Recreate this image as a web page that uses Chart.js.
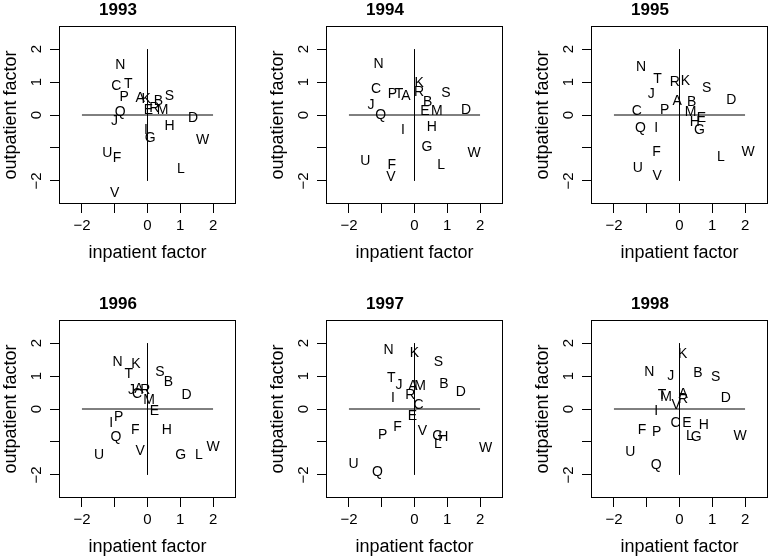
<!DOCTYPE html>
<html>
<head>
<meta charset="utf-8">
<script src="https://cdn.jsdelivr.net/npm/chart.js@4/dist/chart.umd.min.js"></script>
<style>
html,body{margin:0;padding:0;background:#fff;overflow:hidden;width:769px;height:556px;}
canvas{position:absolute;}
</style>
</head>
<body>
<canvas id="c0" width="240" height="270" style="left:0px;top:0px"></canvas>
<canvas id="c1" width="240" height="270" style="left:267px;top:0px"></canvas>
<canvas id="c2" width="240" height="270" style="left:532px;top:0px"></canvas>
<canvas id="c3" width="240" height="270" style="left:0px;top:294px"></canvas>
<canvas id="c4" width="240" height="270" style="left:267px;top:294px"></canvas>
<canvas id="c5" width="240" height="270" style="left:532px;top:294px"></canvas>
<script>
// ---- data ----
const letters = ['A','B','C','D','E','F','G','H','I','J','K','L','M','N','P','Q','R','S','T','U','V','W'];
const years = ['1993','1994','1995','1996','1997','1998'];

const x1993 = [-0.22,0.33,-0.95,1.39,0.03,-0.93,0.08,0.67,-0.05,-1.01,-0.04,1.02,0.46,-0.83,-0.71,-0.83,0.21,0.67,-0.59,-1.23,-1.00,1.68];
const y1993 = [0.54,0.44,0.90,-0.07,0.17,-1.28,-0.68,-0.31,-0.43,-0.14,0.52,-1.60,0.17,1.54,0.58,0.13,0.23,0.62,0.98,-1.11,-2.35,-0.73];

const x1994 = [-0.26,0.40,-1.17,1.57,0.32,-0.69,0.38,0.53,-0.35,-1.33,0.14,0.81,0.68,-1.10,-0.67,-1.03,0.14,0.96,-0.47,-1.50,-0.72,1.82];
const y1994 = [0.62,0.42,0.82,0.19,0.15,-1.48,-0.95,-0.34,-0.43,0.34,1.00,-1.48,0.15,1.59,0.67,0.03,0.72,0.71,0.67,-1.35,-1.86,-1.12];

const x1995 = [-0.07,0.37,-1.30,1.58,0.67,-0.70,0.61,0.47,-0.71,-0.86,0.18,1.26,0.34,-1.17,-0.45,-1.19,-0.14,0.83,-0.67,-1.27,-0.68,2.09];
const y1995 = [0.44,0.42,0.15,0.49,-0.07,-1.09,-0.41,-0.17,-0.36,0.67,1.05,-1.24,0.13,1.49,0.18,-0.36,1.02,0.85,1.13,-1.58,-1.83,-1.09];

const x1996 = [-0.26,0.64,-0.32,1.19,0.21,-0.37,1.01,0.59,-1.11,-0.49,-0.35,1.57,0.05,-0.91,-0.88,-0.96,-0.07,0.38,-0.57,-1.48,-0.22,2.00];
const y1996 = [0.64,0.85,0.50,0.45,-0.02,-0.60,-1.37,-0.62,-0.38,0.60,1.39,-1.37,0.29,1.47,-0.22,-0.81,0.62,1.16,1.10,-1.35,-1.23,-1.11];

const x1997 = [-0.05,0.90,0.12,1.41,-0.06,-0.52,0.71,0.88,-0.66,-0.47,0.00,0.71,0.17,-0.79,-0.97,-1.13,-0.13,0.73,-0.71,-1.86,0.24,2.17];
const y1997 = [0.72,0.78,0.16,0.54,-0.17,-0.53,-0.78,-0.81,0.37,0.76,1.72,-1.04,0.72,1.82,-0.76,-1.88,0.45,1.47,0.96,-1.64,-0.63,-1.16];

const x1998 = [0.11,0.56,-0.12,1.41,0.23,-1.14,0.51,0.74,-0.71,-0.27,0.10,0.32,-0.41,-0.92,-0.70,-0.71,0.11,1.10,-0.53,-1.50,-0.10,1.85];
const y1998 = [0.50,1.13,-0.38,0.35,-0.38,-0.60,-0.81,-0.45,-0.02,1.03,1.69,-0.78,0.40,1.15,-0.67,-1.67,0.32,1.01,0.44,-1.27,0.15,-0.79];

const xTicks = [-2,-1,0,1,2];
const xTickLabels = ['\u22122','','0','1','2'];
const yTicks = [-2,-1,0,1,2];
const yTickLabels = ['\u22122','','0','1','2'];
const refH = [[-2,0],[2,0]];
const refV = [[0,-2],[0,2]];

const xs = [x1993,x1994,x1995,x1996,x1997,x1998];
const ys = [y1993,y1994,y1995,y1996,y1997,y1998];

const FAM = '"Liberation Sans", Arial, Helvetica, sans-serif';
Chart.defaults.font.family = FAM;
Chart.defaults.color = '#000';

const boxPlugin = {
  id: 'boxPlugin',
  afterDraw(chart) {
    const {ctx, chartArea: a} = chart;
    ctx.save();
    ctx.strokeStyle = '#000';
    ctx.lineWidth = 1;
    ctx.strokeRect(Math.round(a.left) + 0.5, Math.round(a.top) + 0.5, Math.round(a.right - a.left) - 1, Math.round(a.bottom - a.top) - 1);
    // rotated y tick labels
    const ys_ = chart.scales.y;
    ctx.fillStyle = '#000';
    ctx.font = '15px ' + FAM;
    ctx.textAlign = 'center';
    ctx.textBaseline = 'middle';
    yTicks.forEach((v, i) => {
      const lab = yTickLabels[i];
      if (!lab) return;
      const py = ys_.getPixelForValue(v);
      ctx.save();
      ctx.translate(37, py);
      ctx.rotate(-Math.PI / 2);
      ctx.fillText(lab, 0, 0);
      ctx.restore();
    });
    ctx.restore();
  },
  afterDatasetsDraw(chart) {
    const {ctx} = chart;
    const meta = chart.getDatasetMeta(2);
    ctx.save();
    ctx.fillStyle = '#000';
    ctx.font = '14px ' + FAM;
    ctx.textAlign = 'center';
    ctx.textBaseline = 'alphabetic';
    meta.data.forEach((pt, i) => {
      ctx.fillText(letters[i], pt.x, pt.y + 5);
    });
    ctx.restore();
  }
};

years.forEach((yr, k) => {
  const pts = letters.map((l, i) => ({x: xs[k][i], y: ys[k][i]}));
  new Chart(document.getElementById('c' + k), {
    type: 'scatter',
    data: {
      datasets: [
        {type: 'line', data: refH.map(p => ({x: p[0], y: p[1]})), borderColor: '#000', borderWidth: 1, pointRadius: 0, showLine: true, fill: false},
        {type: 'line', data: refV.map(p => ({x: p[0], y: p[1]})), borderColor: '#000', borderWidth: 1, pointRadius: 0, showLine: true, fill: false},
        {label: yr, data: pts, pointRadius: 0, pointHoverRadius: 0, backgroundColor: 'rgba(0,0,0,0)', borderColor: 'rgba(0,0,0,0)'}
      ]
    },
    options: {
      responsive: false,
      devicePixelRatio: 1,
      animation: false,
      events: [],
      layout: {padding: {top: 0, right: 4, bottom: 0, left: 0}},
      plugins: {
        legend: {display: false},
        tooltip: {enabled: false},
        title: {
          display: true, text: yr, color: '#000',
          font: {size: 17, weight: 'bold', family: FAM, lineHeight: 1.2},
          padding: {top: 0, bottom: 5.6}
        }
      },
      scales: {
        x: {
          type: 'linear', min: -2.7, max: 2.7,
          afterBuildTicks: s => { s.ticks = xTicks.map(v => ({value: v})); },
          afterFit: s => { s.height = 66; },
          grid: {display: true, drawOnChartArea: false, drawTicks: true, tickLength: 9, color: '#000', lineWidth: 1},
          border: {display: false},
          ticks: {
            autoSkip: false, maxRotation: 0, minRotation: 0, padding: 4, color: '#000',
            font: {size: 15, family: FAM},
            callback: (v) => { const i = xTicks.indexOf(v); return i >= 0 ? xTickLabels[i] : ''; }
          },
          title: {display: true, text: 'inpatient factor', color: '#000', font: {size: 18, family: FAM, lineHeight: 1.2}, padding: {top: 0, bottom: 6}}
        },
        y: {
          type: 'linear', min: -2.7, max: 2.7,
          afterBuildTicks: s => { s.ticks = yTicks.map(v => ({value: v})); },
          afterFit: s => { s.width = 59; },
          grid: {display: true, drawOnChartArea: false, drawTicks: true, tickLength: 9, color: '#000', lineWidth: 1},
          border: {display: false},
          ticks: {display: false},
          title: {display: true, text: 'outpatient factor', color: '#000', font: {size: 18, family: FAM, lineHeight: 1.2}, padding: {top: 0, bottom: 0}}
        }
      }
    },
    plugins: [boxPlugin]
  });
});
</script>
</body>
</html>
